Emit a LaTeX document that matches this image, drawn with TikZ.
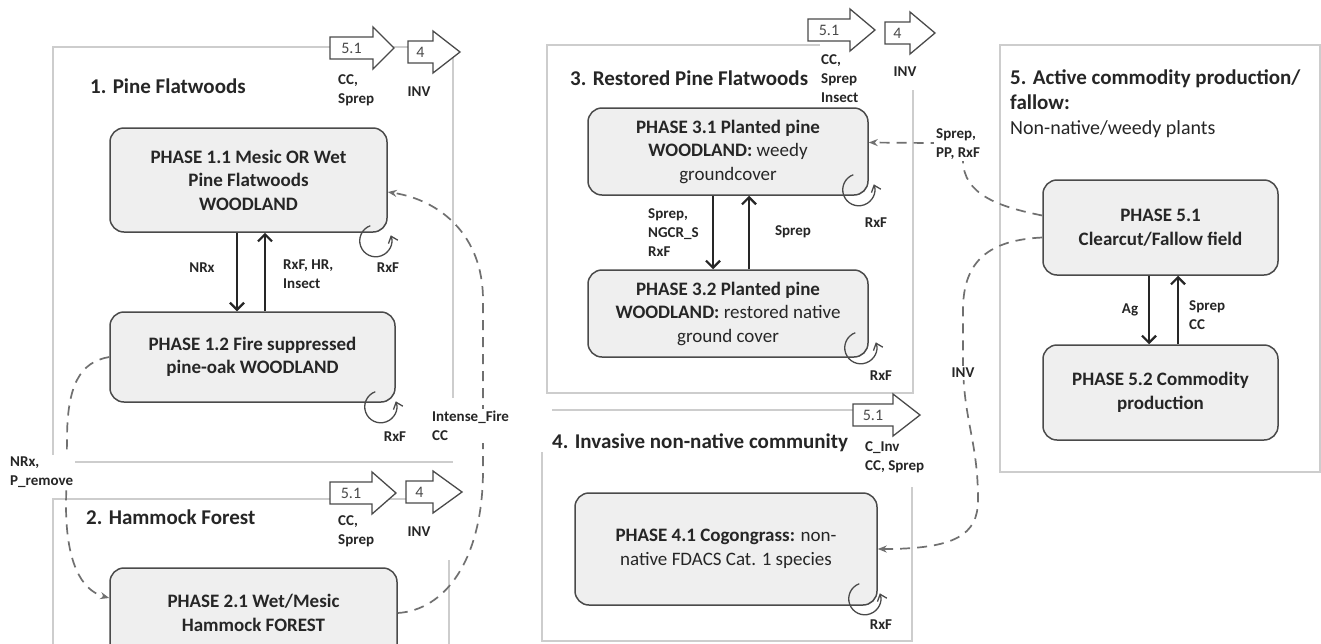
\documentclass[tikz,border=0pt]{standalone}
\usepackage{fontspec}
\setmainfont{Carlito}
\usetikzlibrary{arrows.meta,calc}
\definecolor{boxfill}{HTML}{EFEFEF}
\definecolor{boxdraw}{HTML}{4A4A4A}
\definecolor{panelc}{HTML}{CDCDCD}
\definecolor{txt}{HTML}{262626}
\definecolor{dashc}{HTML}{707070}

% name, xleft, ycenter, body length, head length, label
\newcommand\blkarrow[6]{%
  \draw[barrow] (#2,#3+11) -- ++(#4,0) -- ++(0,10) -- ++(#5,-21) -- ++(-#5,-21) -- ++(0,10) -- ++(-#4,0) -- cycle;
  \node[arrtext] (#1) at ({#2+#4/2},#3) {#6};}
% node, center dx, center dy (from south east corner)
\newcommand\selfloop[3]{%
  \draw[loopar] ([shift={({#2-5.5},{#3+15})}]#1.south east) arc[start angle=110,end angle=380,radius=16];}

\begin{document}
\begin{tikzpicture}[x=1pt,y=1pt,
  barrow/.style={draw=boxdraw, fill=white, line width=1.3pt, line join=miter},
  arrtext/.style={font=\fontsize{16}{18}\selectfont, text=boxdraw, inner sep=0pt},
  phase/.style={draw=boxdraw, fill=boxfill, rounded corners=14pt, line width=1.5pt,
     align=center, font=\fontsize{19}{23.5}\selectfont\bfseries, text=txt, inner sep=3pt},
  lab/.style={font=\fontsize{15}{19}\selectfont\bfseries, text=txt, align=left, inner sep=1pt},
  dlab/.style={lab, fill=white, inner sep=2pt},
  ttl/.style={font=\fontsize{21}{25}\selectfont\bfseries, text=txt, inner sep=2pt, align=left},
  trans/.style={line width=2.2pt, draw=black!85, -{Straight Barb[length=7pt,width=14pt]}},
  dconn/.style={draw=dashc, line width=1.7pt, dash pattern=on 10pt off 7pt, -{Stealth[length=9pt,width=7pt]}},
  loopar/.style={draw=boxdraw, line width=1.3pt, -{Straight Barb[length=6pt,width=10pt]}},
  panel/.style={draw=panelc, line width=1.6pt}]

\clip (0,0) rectangle (1321,-643);
\fill[white] (0,0) rectangle (1321,-643);

% panels
\draw[panel] (453,-398) -- (453,-47) -- (53,-47) -- (53,-462) -- (453,-462);
\draw[panel] (53,-650) -- (53,-499) -- (440,-499);
\draw[panel] (449,-560) -- (449,-650);
\draw[panel] (913,-90) -- (913,-393) -- (547,-393) -- (547,-45) -- (820,-45);
\draw[panel] (552,-410) -- (860,-410);
\draw[panel] (542,-452) -- (542,-641) -- (912,-641) -- (912,-487);
\draw[panel] (1000,-45) rectangle (1320,-472);

% block arrows
\blkarrow{a1}{330}{-48}{43}{21}{5.1}
\blkarrow{a2}{408}{-52}{25}{27}{4}
\blkarrow{a3}{330}{-493}{42}{24}{5.1}
\blkarrow{a4}{406}{-492}{27}{29}{4}
\blkarrow{a5}{808}{-30}{42}{25}{5.1}
\blkarrow{a6}{885}{-33}{25}{25}{4}
\blkarrow{a7}{853}{-415}{40}{27}{5.1}

% titles
\node[ttl, anchor=west] (t1) at (88,-86) {1. Pine Flatwoods};
\node[ttl, anchor=west] (t2) at (84,-517) {2. Hammock Forest};
\node[ttl, anchor=west] (t3) at (568,-78) {3. Restored Pine Flatwoods};
\node[ttl, anchor=west, fill=white] (t4) at (550,-443) {4. Invasive non-native community};
\node[ttl, anchor=north west] (t5) at (1008,-68) {\textbf{5. Active commodity production/}\\\textbf{fallow:}\\{\mdseries\fontsize{20}{25}\selectfont Non-native/weedy plants}};

% phases
\node[phase, minimum width=277, minimum height=104] (p11) at (248.5,-180) {PHASE 1.1 Mesic  OR Wet\\Pine Flatwoods\\WOODLAND};
\node[phase, minimum width=285, minimum height=90] (p12) at (252.5,-357) {PHASE 1.2 Fire suppressed\\pine-oak WOODLAND};
\node[phase, minimum width=287, minimum height=90] (p21) at (253.5,-613) {PHASE 2.1 Wet/Mesic\\Hammock FOREST};
\node[phase, minimum width=280, minimum height=87] (p31) at (728,-151.5) {PHASE 3.1  Planted pine\\WOODLAND: {\mdseries weedy}\\{\mdseries groundcover}};
\node[phase, minimum width=280, minimum height=87] (p32) at (728,-313.5) {PHASE 3.2  Planted pine\\WOODLAND: {\mdseries restored native}\\{\mdseries ground cover}};
\node[phase, minimum width=302, minimum height=112] (p41) at (726,-549) {PHASE 4.1 Cogongrass: {\mdseries non-}\\{\mdseries native FDACS  Cat. 1 species}};
\node[phase, minimum width=235, minimum height=95] (p51) at (1160.5,-227.5) {PHASE 5.1\\Clearcut/Fallow  field};
\node[phase, minimum width=235, minimum height=95] (p52) at (1160.5,-392.5) {PHASE 5.2 Commodity\\production};

% transitions
\draw[trans] ([xshift=-11.5]p11.south) -- ([xshift=-11.5]p11.south |- p12.north);
\draw[trans] ([xshift=16.5]p11.south |- p12.north) -- ([xshift=16.5]p11.south);
\draw[trans] ([xshift=-15]p31.south) -- ([xshift=-15]p31.south |- p32.north);
\draw[trans] ([xshift=21]p31.south |- p32.north) -- ([xshift=21]p31.south);
\draw[trans] ([xshift=-11.5]p51.south) -- ([xshift=-11.5]p51.south |- p52.north);
\draw[trans] ([xshift=17.5]p51.south |- p52.north) -- ([xshift=17.5]p51.south);

% self loops
\selfloop{p11}{-12}{-8}
\selfloop{p12}{-15}{-4}
\selfloop{p31}{-10}{6}
\selfloop{p32}{-8}{10}
\selfloop{p41}{-13}{7}

% dashed connectors
\draw[dconn] (p12.west) .. controls (80,-362) and (67,-385) .. (67,-440) -- (66,-505) .. controls (66,-560) and (80,-590) .. ([yshift=15]p21.west);
\draw[dconn] (p21.east) .. controls (445,-610) and (483,-560) .. (483,-470) -- (483,-300) .. controls (483,-235) and (440,-200) .. ([yshift=-12]p11.east);
\draw[dconn] ([yshift=12]p51.west) .. controls (1000,-207) and (963,-195) .. (963,-160) .. controls (963,-148) and (950,-143) .. (930,-143) -- ([yshift=9]p31.east);
\draw[dconn] ([yshift=-10]p51.west) .. controls (990,-240) and (963,-260) .. (963,-310) -- (963,-360) .. controls (963,-420) and (978,-440) .. (978,-500) .. controls (978,-535) and (955,-549) .. (p41.east);

% labels on block arrows
\node[lab, anchor=west] (l1) at (337,-90) {CC,\\Sprep};
\node[lab] (l2) at (419,-92) {INV};
\node[lab, anchor=west] (l3) at (337,-531) {CC,\\Sprep};
\node[lab] (l4) at (419,-532) {INV};
\node[lab, anchor=west, fill=white] (l5) at (820,-79) {CC,\\Sprep\\Insect};
\node[lab, fill=white] (l6) at (905,-72) {INV};
\node[lab, anchor=west, fill=white] (l7) at (864,-457) {C\_Inv\\CC, Sprep};

% transition labels
\node[lab] (n1) at (202,-268) {NRx};
\node[lab, anchor=west] (n2) at (282,-274) {RxF, HR,\\Insect};
\node[lab, anchor=west] (n3) at (647,-233) {Sprep,\\NGCR\_S\\RxF};
\node[lab] (n4) at (793,-232) {Sprep};
\node[lab] (n5) at (1130,-310) {Ag};
\node[lab, anchor=west] (n6) at (1188,-315) {Sprep\\CC};

% loop labels
\node[lab] (r1) at (388,-268) {RxF};
\node[lab] (r2) at (395,-437) {RxF};
\node[lab] (r3) at (876,-223) {RxF};
\node[lab] (r4) at (881,-376) {RxF};
\node[lab] (r5) at (881,-625) {RxF};

% dashed connector labels
\node[dlab, anchor=west] (d1) at (8,-472) {NRx,\\P\_remove};
\node[dlab, anchor=west] (d2) at (430,-426) {Intense\_Fire\\CC};
\node[dlab, anchor=west] (d3) at (934,-144) {Sprep,\\PP, RxF};
\node[dlab] (d4) at (963,-373) {INV};
\end{tikzpicture}
\end{document}
